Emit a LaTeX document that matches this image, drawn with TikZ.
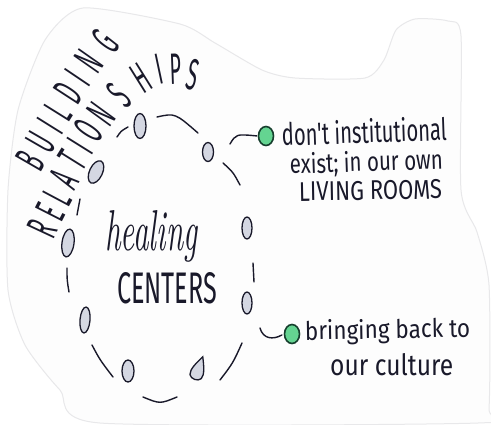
\documentclass[tikz,border=0pt]{standalone}
\usepackage{fontspec}
\usetikzlibrary{shapes.geometric}
\newfontfamily\handfont{Fira Sans}
\definecolor{ink}{RGB}{25,25,42}
\definecolor{mint}{RGB}{100,212,145}
\definecolor{mintline}{RGB}{22,62,45}
\definecolor{ovalfill}{RGB}{212,215,226}
\definecolor{paper}{RGB}{253,253,253}
\definecolor{paperedge}{RGB}{232,232,234}
\begin{document}
\begin{tikzpicture}[x=1pt,y=-1pt,
  inkline/.style={draw=ink, line width=1.4pt, line cap=round},
  oval/.style={ellipse, draw=ink, line width=1.3pt, fill=ovalfill, inner sep=0pt},
  gdot/.style={ellipse, draw=mintline, line width=1.6pt, fill=mint, minimum width=15pt, minimum height=19pt, inner sep=0pt},
  lbl/.style={anchor=base west, inner sep=0pt, text=ink, font=\handfont},
  letter/.style={inner sep=0pt, text=ink, font=\handfont\fontsize{44}{44}\selectfont}
]
\useasboundingbox (0,0) rectangle (491,424);
\fill[white] (0,0) rectangle (491,424);
\filldraw[fill=paper, draw=paperedge, line width=1pt] plot[smooth cycle, tension=0.4] coordinates {(83,8) (180,24) (215,43) (262,70) (295,78) (365,78) (384,60) (396,30) (415,19) (448,21) (461,36) (461,190) (477,232) (489,285) (489,408) (478,423) (100,423) (60,390) (25,345) (8,290) (8,190) (18,110) (45,40)};

% curved title letters
\foreach \ch/\x/\y/\a [count=\i] in {B/30/161/60, U/41/142/60, I/50/126/58, L/58/111/58, D/68/93/57, I/78/78/56, N/89/61/55, G/105/41/52}
  \node[letter, rotate=\a] (bu\i) at (\x,\y) {\scalebox{0.45}[1]{\ch}};
\foreach \ch/\x/\y/\a [count=\i] in {R/42/229/65, E/50/212/63, L/57/197/62, A/64/179/60, T/72/160/58, I/80/146/58, O/89/130/57, N/101/114/54, S/119/95/47, H/141/78/32, I/159/69/12, P/176/69/2, S/193/75/-12}
  \node[letter, rotate=\a] (re\i) at (\x,\y) {\scalebox{0.45}[1]{\ch}};

% ovals of the ring
\node[oval, minimum width=12pt, minimum height=25pt] (o1) at (140,126) {};
\node[oval, minimum width=11pt, minimum height=19pt] (o2) at (208,152) {};
\node[oval, minimum width=13pt, minimum height=24pt, rotate=-25] (o3) at (96,172) {};
\node[oval, minimum width=12pt, minimum height=28pt, rotate=-8] (o4) at (68,243) {};
\node[oval, minimum width=10pt, minimum height=22pt] (o5) at (247,228) {};
\node[oval, minimum width=10pt, minimum height=22pt] (o6) at (247,303) {};
\node[oval, minimum width=10pt, minimum height=26pt, rotate=-5] (o7) at (85,320) {};
\node[oval, minimum width=12pt, minimum height=22pt] (o8) at (128,371) {};
\begin{scope}[shift={(198,370)}, rotate=-20]
  \filldraw[draw=ink, line width=1.3pt, fill=ovalfill] (0,-14) .. controls (4,-6) and (8,2) .. (6,7) .. controls (4,11) and (-4,11) .. (-6,7) .. controls (-8,2) and (-4,-6) .. (0,-14) -- cycle;
\end{scope}

% ring strokes
\draw[inkline] (117,137) .. controls (121,131) .. (128,127);
\draw[inkline] (157,117) .. controls (175,113) .. (198,133);
\draw[inkline] (223,163) .. controls (233,172) .. (240,185);
\draw[inkline] (80,199) .. controls (78,207) .. (77,215);
\draw[inkline] (67,268) .. controls (67,280) .. (69,292);
\draw[inkline] (253,263) .. controls (254,272) .. (254,282);
\draw[inkline] (92,345) .. controls (100,360) .. (113,377);
\draw[inkline] (143,397) .. controls (160,404) .. (177,397);
\draw[inkline] (242,343) .. controls (233,363) .. (220,380);

% centre text
\node[lbl] (heal) at (105,250) {\resizebox{92pt}{40pt}{\rmfamily\itshape healing}};
\node[lbl] (cent) at (117,303) {\resizebox{100pt}{31pt}{CENTERS}};

% green dots and connectors
\node[gdot] (g1) at (266,136) {};
\node[gdot] (g2) at (292,334) {};
\coordinate (c1) at (230,144);
\coordinate (c2) at (260,328);
\draw[inkline, shorten >=1pt] (c1) .. controls (236,134) .. (g1.west);
\draw[inkline, shorten >=2pt] (c2) .. controls (263,339) and (273,340) .. (g2.west);

% right texts
\node[lbl, rotate=2] (t1) at (282,146) {\resizebox{165pt}{24pt}{don't institutional}};
\node[lbl, rotate=2] (t2) at (290,174) {\resizebox{153pt}{21pt}{exist; in our own}};
\node[lbl, rotate=1] (t3) at (299,201) {\resizebox{143pt}{19pt}{LIVING ROOMS}};
\node[lbl, rotate=1] (t4) at (305,340) {\resizebox{165pt}{20pt}{bringing back to}};
\node[lbl] (t5) at (330,375) {\resizebox{123pt}{22pt}{our culture}};
\end{tikzpicture}
\end{document}
